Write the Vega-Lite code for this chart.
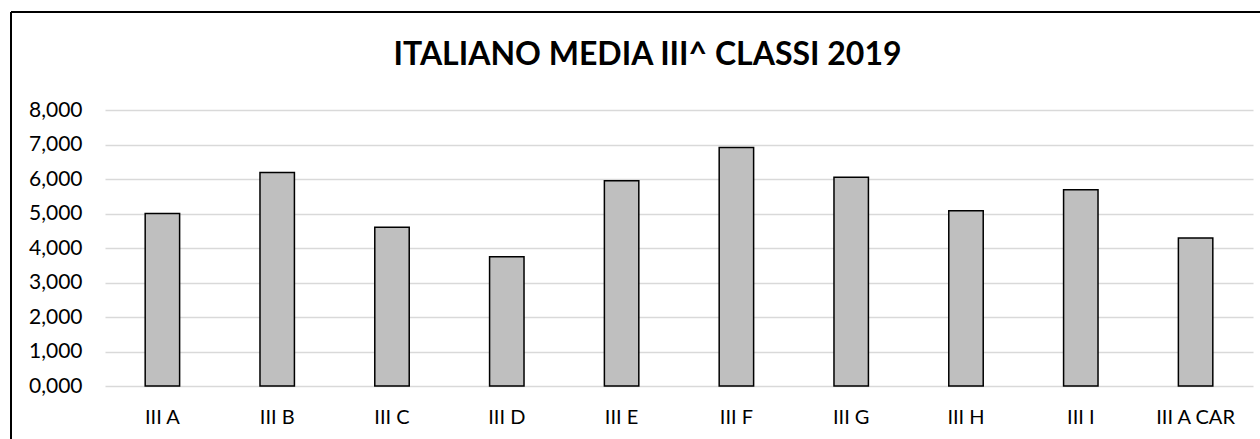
{
  "$schema": "https://vega.github.io/schema/vega-lite/v6.json",
  "autosize": {"type": "none"},
  "padding": {"left": 11, "top": 12, "right": 0, "bottom": 0},
  "width": 1249,
  "height": 427,
  "background": "white",
  "title": {
    "text": "ITALIANO MEDIA III^ CLASSI 2019",
    "font": "Lato",
    "fontSize": 32,
    "fontWeight": "bold",
    "color": "#000000",
    "anchor": "middle",
    "frame": "group",
    "offset": -61,
    "dx": 12
  },
  "data": {
    "values": [
      {"classe": "III A", "media": 5.00},
      {"classe": "III B", "media": 6.19},
      {"classe": "III C", "media": 4.60},
      {"classe": "III D", "media": 3.745},
      {"classe": "III E", "media": 5.95},
      {"classe": "III F", "media": 6.91},
      {"classe": "III G", "media": 6.05},
      {"classe": "III H", "media": 5.08},
      {"classe": "III I", "media": 5.69},
      {"classe": "III A CAR", "media": 4.29}
    ]
  },
  "layer": [
    {
      "mark": {"type": "bar", "fill": "#bfbfbf", "stroke": "#000000", "strokeWidth": 1.5},
      "encoding": {
        "x": {
          "field": "classe",
          "type": "nominal",
          "sort": null,
          "scale": {"range": [94, 1242], "paddingInner": 0.7, "paddingOuter": 0.35},
          "axis": {
            "title": null,
            "orient": "bottom",
            "offset": -34,
            "domain": false,
            "ticks": false,
            "tickSize": 0,
            "labelPadding": 2,
            "labelAngle": 0,
            "labelFont": "Lato",
            "labelFontSize": 20,
            "labelColor": "#000000",
            "grid": false
          }
        },
        "y": {
          "field": "media",
          "type": "quantitative",
          "scale": {"domain": [0, 8], "range": [374, 98], "nice": false, "zero": true},
          "axis": {
            "title": null,
            "orient": "left",
            "offset": -77,
            "values": [0, 1, 2, 3, 4, 5, 6, 7, 8],
            "domain": false,
            "ticks": false,
            "tickSize": 0,
            "labelPadding": 6,
            "labelFont": "Lato",
            "labelFontSize": 21,
            "labelColor": "#000000",
            "labelExpr": "replace(format(datum.value, '.3f'), '.', ',')",
            "grid": true,
            "gridColor": "#d9d9d9",
            "gridWidth": 1.5
          }
        }
      }
    },
    {
      "mark": {"type": "rule", "color": "#000000", "strokeWidth": 2},
      "encoding": {
        "x": {
          "datum": 0,
          "type": "quantitative",
          "scale": {"domain": [0, 1], "range": [0, 1249]},
          "axis": null
        }
      }
    },
    {
      "mark": {"type": "rule", "color": "#000000", "strokeWidth": 2},
      "encoding": {
        "y": {
          "datum": 1,
          "type": "quantitative",
          "scale": {"domain": [0, 1], "range": [427, 0]},
          "axis": null
        }
      }
    }
  ],
  "resolve": {"scale": {"x": "independent", "y": "independent"}, "axis": {"x": "independent", "y": "independent"}},
  "config": {
    "view": {"stroke": null, "fill": "white"}
  }
}
